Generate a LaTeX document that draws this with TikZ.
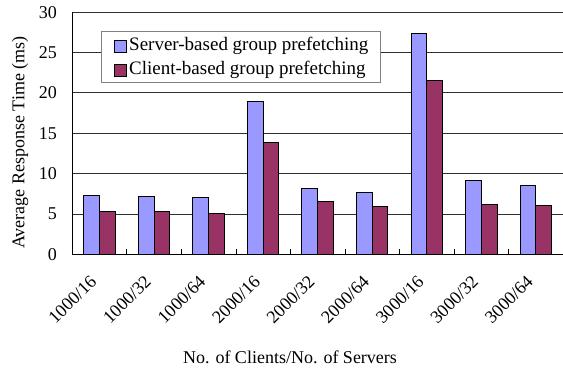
\documentclass[tikz,border=0pt]{standalone}
\usepackage{fontspec}
\setmainfont{Liberation Serif}
\usetikzlibrary{positioning}
\definecolor{ServerBar}{HTML}{9999FF}
\definecolor{ClientBar}{HTML}{993366}
\definecolor{Grid}{HTML}{303030}
\tikzset{
  lbl/.style={font=\fontsize{18}{21}\selectfont, inner sep=1pt},
  catlbl/.style={font=\fontsize{18}{21}\selectfont, inner sep=0pt},
  leglbl/.style={font=\fontsize{19}{22}\selectfont, inner sep=1pt},
  bar/.style={draw=black, line width=0.9pt},
  gridline/.style={draw=Grid, line width=0.8pt},
  legbox/.style={draw=gray, fill=white, line width=0.8pt},
}
\begin{document}
\begin{tikzpicture}[x=1pt, y=1pt]
  \useasboundingbox (0,0) rectangle (563,373);
  % gridlines and axes
  \foreach \v in {5,10,...,30}
    \draw[gridline] (72.3,118.7+8.07*\v) -- (563,118.7+8.07*\v);
  \foreach \v in {0,5,...,30}
    \node[lbl, anchor=east] (t\v) at (58,118.7+8.07*\v) {\v};
  \draw[line width=0.9pt] (72.3,360.8) -- (72.3,118.7) -- (563,118.7);
  \foreach \i in {1,...,8}
    \draw[line width=0.8pt] (72.3+54.55*\i,118.7) -- ++(0,5);
  % bars
  \foreach \s/\c [count=\i from 0] in {7.3/5.3, 7.2/5.3, 7.0/5.1, 18.9/13.8, 8.2/6.5,
                                       7.7/5.9, 27.4/21.5, 9.2/6.2, 8.55/6.0} {
    \draw[bar, fill=ServerBar] (83.7+54.55*\i,118.7) rectangle ++(15.7,8.07*\s);
    \draw[bar, fill=ClientBar] (99.4+54.55*\i,118.7) rectangle ++(15.7,8.07*\c);
  }
  % category labels
  \foreach \g [count=\i from 0] in {1000/16,1000/32,1000/64,2000/16,2000/32,
                                    2000/64,3000/16,3000/32,3000/64}
    \node[catlbl, anchor=north east, rotate=45] (c\i) at (89+54.55*\i,99) {\g};
  % legend
  \draw[legbox] (101.7,290.7) rectangle (380.7,342);
  \draw[bar, line width=0.7pt, fill=ServerBar] (114,321) rectangle ++(12,12);
  \draw[bar, line width=0.7pt, fill=ClientBar] (114,297) rectangle ++(12,12);
  \node[leglbl, anchor=west] (srv) at (128,327.5) {Server-based group prefetching};
  \node[leglbl, anchor=west] (cli) at (128,303.5) {Client-based group prefetching};
  % axis titles
  \node[lbl, rotate=90] (ytitle) at (20,230.5) {Average Response Time (ms)};
  \node[lbl] (xtitle) at (290,16) {No. of Clients/No. of Servers};
\end{tikzpicture}
\end{document}
